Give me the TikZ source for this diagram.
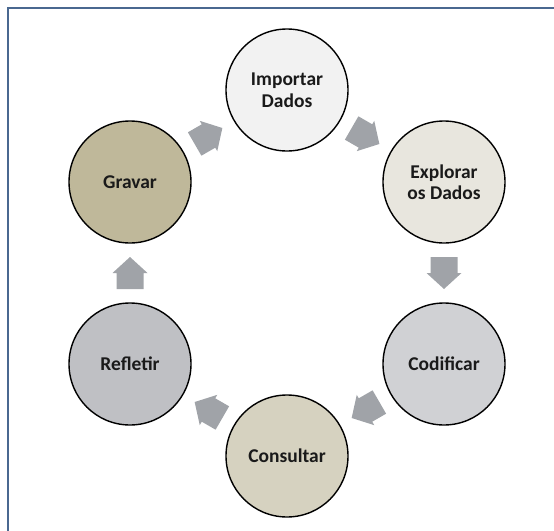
\documentclass[tikz,border=0pt]{standalone}
\usepackage{fontspec}
\setmainfont{Carlito}
\usetikzlibrary{calc}

\definecolor{framecol}{HTML}{4A6890}
\definecolor{arrowcol}{HTML}{A0A3A8}
\definecolor{txtcol}{HTML}{1A1A1A}
\definecolor{cImportar}{HTML}{F2F2F2}
\definecolor{cExplorar}{HTML}{E8E6DE}
\definecolor{cCodificar}{HTML}{D0D1D4}
\definecolor{cConsultar}{HTML}{D6D2C0}
\definecolor{cRefletir}{HTML}{BFC0C4}
\definecolor{cGravar}{HTML}{BFB89A}

\tikzset{
  stage/.style={circle, draw=black, line width=1.4pt, minimum size=122pt,
    inner sep=0pt, align=center, text=txtcol,
    font=\fontsize{19.5}{21.5}\selectfont\bfseries},
  blockarrow/.style={fill=arrowcol, draw=none},
  framebox/.style={draw=framecol, line width=2.6pt}
}

\begin{document}
\begin{tikzpicture}[x=1pt, y=-1pt]
  \useasboundingbox (0,0) rectangle (554,530);
  \begin{scope}
    \clip (0,0) rectangle (554,530);
    \draw[framebox] (8,8) rectangle (580,560);
  \end{scope}

  % the six stages of the cycle
  \node[stage, fill=cImportar]   (importar)  at (287,90)  {Importar\\Dados};
  \node[stage, fill=cExplorar]   (explorar)  at (444,182) {Explorar\\os Dados};
  \node[stage, fill=cCodificar]  (codificar) at (444,364) {Codificar};
  \node[stage, fill=cConsultar]  (consultar) at (287,456) {Consultar};
  \node[stage, fill=cRefletir]   (refletir)  at (130,364) {Refletir};
  \node[stage, fill=cGravar]     (gravar)    at (130,182) {Gravar};

  % block arrows halfway between consecutive stages
  \foreach \a/\b/\ang in {gravar/importar/30, importar/explorar/-30,
      explorar/codificar/-90, codificar/consultar/-150,
      consultar/refletir/150, refletir/gravar/90}{
    \coordinate (m-\a) at ($(\a)!0.5!(\b)$);
    \fill[blockarrow, shift={(m-\a)}, rotate=\ang]
      (-16,-13.5) -- (0,-13.5) -- (0,-17.5) -- (16,0)
      -- (0,17.5) -- (0,13.5) -- (-16,13.5) -- cycle;
  }
\end{tikzpicture}
\end{document}
